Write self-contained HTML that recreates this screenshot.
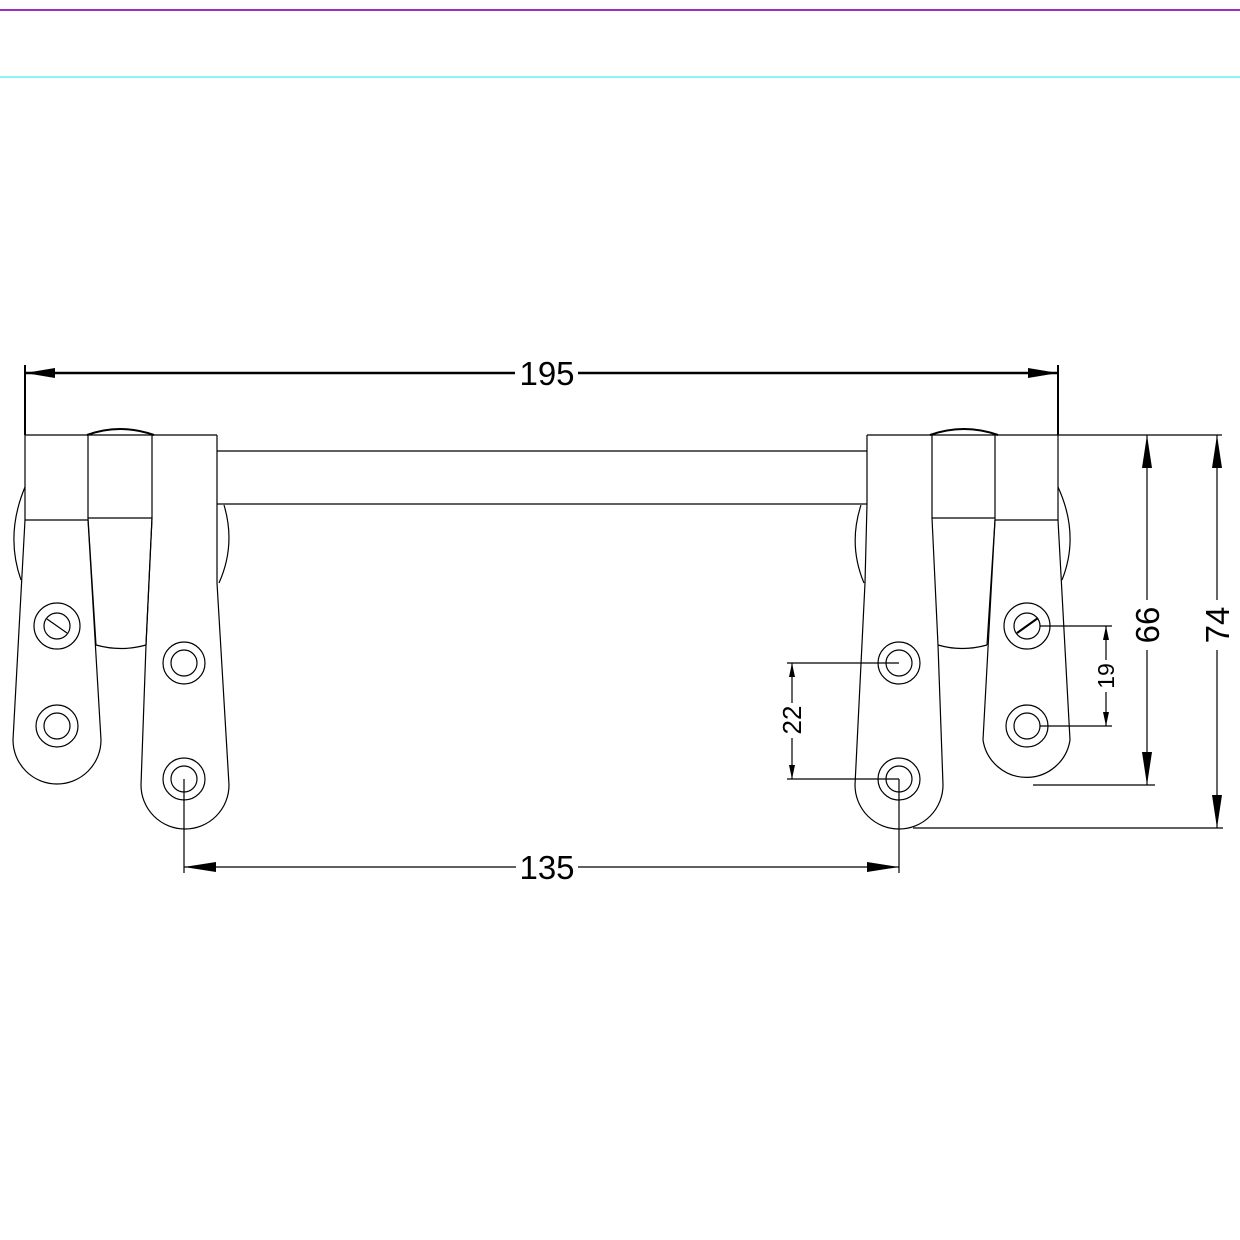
<!DOCTYPE html>
<html><head><meta charset="utf-8"><style>html,body{margin:0;padding:0;background:#fff}svg{display:block}</style></head>
<body>
<svg width="1240" height="1240" viewBox="0 0 1240 1240" xmlns="http://www.w3.org/2000/svg" font-family="Liberation Sans, sans-serif">
<rect width="1240" height="1240" fill="#fff"/>
<line x1="0" y1="10" x2="1240" y2="10" stroke="#9a2fc0" stroke-width="2"/>
<line x1="0" y1="77" x2="1240" y2="77" stroke="#8ef5f5" stroke-width="2"/>
<g fill="none" stroke="#000" stroke-width="1.2">
<!-- LEFT assembly -->
<line x1="25" y1="435" x2="217" y2="435"/>
<path d="M25 435 V520 H88 M88 435 V518 H152 M152 435 V518"/>
<path d="M87 435 Q120 423 154 435" stroke-width="2"/>
<path d="M217 435 V583 L229 785 A44 44 0 0 1 141 785 L146 645 L152 518"/>
<path d="M25 520 L13 740 A44 44 0 0 0 101 740 L88 520"/>
<path d="M88 518 L96 645 M152 518 L146 645"/>
<path d="M96 645 Q121 652 146 645"/>
<path d="M25 487 Q5 535 21 580"/>
<path d="M224 505 Q236 545 219 583"/>
<line x1="217" y1="451" x2="867" y2="451"/>
<line x1="217" y1="504" x2="867" y2="504"/>
<circle cx="57" cy="626" r="23"/><circle cx="57" cy="626" r="13"/>
<line x1="47" y1="619" x2="67" y2="633"/>
<circle cx="57" cy="726" r="21"/><circle cx="57" cy="726" r="13"/>
<circle cx="184" cy="663" r="21"/><circle cx="184" cy="663" r="13"/>
<circle cx="184" cy="779" r="21"/><circle cx="184" cy="779" r="13"/>
<!-- RIGHT assembly -->
<line x1="867" y1="435" x2="1222" y2="435"/>
<path d="M867 435 V504 M932 435 V518 H995 M995 435 V520 H1058 V435"/>
<path d="M930 435 Q964 423 998 435" stroke-width="2"/>
<path d="M865 583 L855 785 A44 44 0 0 0 943 785 L938 645 L932 518"/>
<path d="M867 504 L865 583"/>
<path d="M995 520 L983 740 A44 44 0 0 0 1070 740 L1058 520"/>
<path d="M995 520 L987 645 M938 645 Q962 652 987 645"/>
<path d="M861 505 Q848 545 864 583"/>
<path d="M1058 487 Q1080 535 1062 580"/>
<circle cx="899" cy="663" r="21"/><circle cx="899" cy="663" r="13"/>
<circle cx="899" cy="779" r="21"/><circle cx="899" cy="779" r="13"/>
<circle cx="1027" cy="626" r="23"/><circle cx="1027" cy="626" r="13"/>
<line x1="1017" y1="633" x2="1038" y2="618" stroke-width="2"/>
<circle cx="1027" cy="726" r="21"/><circle cx="1027" cy="726" r="13"/>
<!-- dims 195 -->
<line x1="25" y1="365" x2="25" y2="435" stroke-width="2"/>
<line x1="1058" y1="365" x2="1058" y2="435" stroke-width="2"/>
<line x1="25" y1="373" x2="515" y2="373" stroke-width="2.5"/>
<line x1="578" y1="373" x2="1058" y2="373" stroke-width="2.5"/>
<!-- 135 -->
<line x1="184" y1="779" x2="184" y2="873"/>
<line x1="899" y1="779" x2="899" y2="873"/>
<line x1="184" y1="867" x2="516" y2="867"/>
<line x1="578" y1="867" x2="899" y2="867"/>
<!-- 66 -->
<line x1="1147" y1="435" x2="1147" y2="600"/>
<line x1="1147" y1="650" x2="1147" y2="785"/>
<line x1="1033" y1="785" x2="1155" y2="785"/>
<!-- 74 -->
<line x1="1217" y1="435" x2="1217" y2="600"/>
<line x1="1217" y1="650" x2="1217" y2="828"/>
<line x1="913" y1="828" x2="1223" y2="828"/>
<!-- 19 -->
<line x1="1040" y1="626" x2="1112" y2="626"/>
<line x1="1040" y1="726" x2="1112" y2="726"/>
<line x1="1106" y1="626" x2="1106" y2="660"/>
<line x1="1106" y1="692" x2="1106" y2="726"/>
<!-- 22 -->
<line x1="787" y1="663" x2="899" y2="663"/>
<line x1="787" y1="779" x2="899" y2="779"/>
<line x1="792" y1="663" x2="792" y2="703"/>
<line x1="792" y1="738" x2="792" y2="779"/>
</g>
<g fill="#000">
<polygon points="25,373 55,368 55,378"/>
<polygon points="1058,373 1028,368 1028,378"/>
<polygon points="184,867 216,862 216,872"/>
<polygon points="899,867 867,862 867,872"/>
<polygon points="1147,435 1142,468 1152,468"/>
<polygon points="1147,785 1142,752 1152,752"/>
<polygon points="1217,435 1212,468 1222,468"/>
<polygon points="1217,828 1212,795 1222,795"/>
<polygon points="1106,626 1103,640 1109,640"/>
<polygon points="1106,726 1103,712 1109,712"/>
<polygon points="792,663 789,677 795,677"/>
<polygon points="792,779 789,765 795,765"/>
</g>
<g fill="#000">
<text x="547" y="385" font-size="33" text-anchor="middle">195</text>
<text x="547" y="879" font-size="33" text-anchor="middle">135</text>
<text transform="translate(1159,625) rotate(-90)" font-size="33" text-anchor="middle">66</text>
<text transform="translate(1229,625) rotate(-90)" font-size="33" text-anchor="middle">74</text>
<text transform="translate(1114,676) rotate(-90)" font-size="23" text-anchor="middle">19</text>
<text transform="translate(801,720) rotate(-90)" font-size="26" text-anchor="middle">22</text>
</g>
</svg>
</body></html>
